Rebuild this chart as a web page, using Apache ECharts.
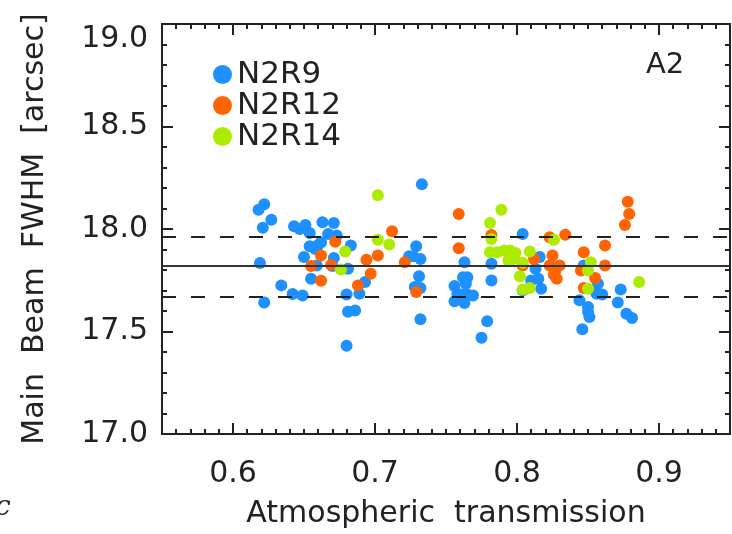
<!DOCTYPE html>
<html>
<head>
<meta charset="utf-8">
<title>Main Beam FWHM vs Atmospheric transmission</title>
<script src="https://cdn.jsdelivr.net/npm/echarts@6/dist/echarts.min.js"></script>
<style>
  html, body { margin: 0; padding: 0; background: #fff; }
  #chart { width: 732px; height: 534px; }
</style>
</head>
<body>
<div id="chart"></div>
<script>
// [atmospheric transmission, main beam FWHM (arcsec)]
var n2r9 = [
  [0.622, 18.121], [0.618, 18.094], [0.627, 18.045], [0.621, 18.006], [0.619, 17.834], [0.634, 17.725], [0.622, 17.642],
  [0.643, 18.013], [0.651, 18.019], [0.647, 18.000], [0.654, 17.981], [0.663, 18.033], [0.671, 18.029], [0.667, 17.976], [0.673, 17.968],
  [0.654, 17.916], [0.660, 17.922], [0.658, 17.903], [0.662, 17.935], [0.650, 17.863], [0.659, 17.822], [0.671, 17.858], [0.670, 17.819],
  [0.655, 17.757], [0.642, 17.683], [0.649, 17.676], [0.680, 17.680], [0.681, 17.596], [0.680, 17.431],
  [0.683, 17.920], [0.681, 17.806], [0.693, 17.741], [0.689, 17.684], [0.686, 17.603],
  [0.733, 18.218], [0.729, 17.916], [0.724, 17.867], [0.727, 17.867], [0.732, 17.854], [0.731, 17.770], [0.728, 17.717], [0.732, 17.712], [0.732, 17.560],
  [0.763, 17.838], [0.762, 17.765], [0.765, 17.765], [0.764, 17.733], [0.756, 17.722], [0.758, 17.684], [0.761, 17.680], [0.765, 17.680], [0.769, 17.676], [0.756, 17.647], [0.763, 17.639],
  [0.782, 17.830], [0.782, 17.749], [0.779, 17.550], [0.775, 17.469],
  [0.804, 17.976], [0.816, 17.863], [0.813, 17.806], [0.810, 17.749], [0.815, 17.757], [0.804, 17.701], [0.817, 17.709],
  [0.847, 17.822], [0.844, 17.652], [0.850, 17.620], [0.850, 17.596], [0.851, 17.571], [0.846, 17.511], [0.857, 17.733], [0.856, 17.684], [0.860, 17.680],
  [0.873, 17.705], [0.871, 17.641], [0.877, 17.587], [0.881, 17.566]
];
var n2r12 = [
  [0.672, 17.938], [0.662, 17.871], [0.655, 17.819], [0.669, 17.825], [0.662, 17.748],
  [0.712, 17.989], [0.702, 17.871], [0.694, 17.850], [0.697, 17.782], [0.688, 17.725], [0.721, 17.838], [0.729, 17.693],
  [0.759, 18.073], [0.759, 17.906], [0.782, 17.971],
  [0.823, 17.960], [0.834, 17.972], [0.812, 17.854], [0.804, 17.822], [0.825, 17.871], [0.823, 17.822], [0.830, 17.822], [0.827, 17.798], [0.826, 17.777], [0.828, 17.757],
  [0.847, 17.887], [0.845, 17.798], [0.855, 17.761], [0.847, 17.712], [0.862, 17.919], [0.862, 17.822],
  [0.878, 18.133], [0.879, 18.073], [0.876, 18.019]
];
var n2r14 = [
  [0.679, 17.890], [0.676, 17.802],
  [0.702, 18.165], [0.702, 17.948], [0.710, 17.924],
  [0.781, 18.029], [0.782, 17.951], [0.781, 17.887], [0.789, 18.094], [0.786, 17.887],
  [0.791, 17.895], [0.795, 17.895], [0.799, 17.883], [0.794, 17.846], [0.797, 17.854], [0.809, 17.890], [0.804, 17.835], [0.802, 17.770], [0.804, 17.705], [0.809, 17.712],
  [0.826, 17.947], [0.852, 17.838], [0.850, 17.798], [0.850, 17.709], [0.886, 17.741]
];
var xTicks = [0.6, 0.7, 0.8, 0.9];
var meanFwhm = 17.817;
var sdFwhm = 0.144;

var ink = "#222";
var font = "DejaVu Sans";
var chart = echarts.init(document.getElementById("chart"));

chart.setOption({
  animation: false,
  backgroundColor: "#fff",
  textStyle: { fontFamily: font, color: ink },
  grid: { left: 162, right: 2, top: 24, bottom: 98 },
  legend: {
    orient: "vertical",
    left: 208,
    top: 54,
    icon: "circle",
    itemWidth: 19,
    itemHeight: 19,
    itemGap: 0,
    textStyle: { fontFamily: font, fontSize: 31, color: ink, padding: [0, 0, 0, 0] },
    data: ["N2R9", "N2R12", "N2R14"]
  },
  graphic: [
    { type: "text", left: 646, top: 51, style: { text: "A2", font: "29px " + font, fill: ink } },
    { type: "text", left: -5, top: 494, style: { text: "c", font: "italic 28px 'DejaVu Serif'", fill: ink } }
  ],
  xAxis: [
    {
      type: "value", min: 0.55, max: 0.95, interval: 0.01, position: "bottom",
      name: "Atmospheric  transmission", nameLocation: "middle", nameGap: 65,
      nameTextStyle: { fontSize: 30, color: ink, fontFamily: font },
      axisLine: { onZero: false, lineStyle: { color: ink, width: 2 } },
      axisTick: { inside: true, length: 5, lineStyle: { color: ink, width: 2 } },
      axisLabel: {
        customValues: xTicks, margin: 25, fontSize: 30, color: ink, fontFamily: font,
        formatter: function (v) { return v.toFixed(1); }
      },
      splitLine: { show: false }
    },
    {
      type: "value", min: 0.55, max: 0.95, interval: 0.01, position: "bottom",
      axisLine: { show: false },
      axisTick: { inside: true, length: 11, customValues: xTicks, lineStyle: { color: ink, width: 2 } },
      axisLabel: { show: false },
      splitLine: { show: false }
    },
    {
      type: "value", min: 0.55, max: 0.95, interval: 0.01, position: "top",
      axisLine: { onZero: false, lineStyle: { color: ink, width: 2 } },
      axisTick: { inside: true, length: 5, lineStyle: { color: ink, width: 2 } },
      axisLabel: { show: false },
      splitLine: { show: false }
    },
    {
      type: "value", min: 0.55, max: 0.95, interval: 0.01, position: "top",
      axisLine: { show: false },
      axisTick: { inside: true, length: 11, customValues: xTicks, lineStyle: { color: ink, width: 2 } },
      axisLabel: { show: false },
      splitLine: { show: false }
    }
  ],
  yAxis: [
    {
      type: "value", min: 17, max: 19, interval: 0.5, position: "left",
      name: "Main  Beam  FWHM  [arcsec]", nameLocation: "middle", nameGap: 112,
      nameTextStyle: { fontSize: 30, color: ink, fontFamily: font },
      axisLine: { onZero: false, lineStyle: { color: ink, width: 2 } },
      axisTick: { inside: true, length: 11, lineStyle: { color: ink, width: 2 } },
      minorTick: { show: true, splitNumber: 5, length: 5, lineStyle: { color: ink, width: 2 } },
      axisLabel: {
        margin: 14, fontSize: 30, color: ink, fontFamily: font,
        verticalAlignMaxLabel: "top",
        formatter: function (v) { return v.toFixed(1); }
      },
      splitLine: { show: false }
    },
    {
      type: "value", min: 17, max: 19, interval: 0.5, position: "right",
      axisLine: { onZero: false, lineStyle: { color: ink, width: 2 } },
      axisTick: { inside: true, length: 11, lineStyle: { color: ink, width: 2 } },
      minorTick: { show: true, splitNumber: 5, length: 5, lineStyle: { color: ink, width: 2 } },
      axisLabel: { show: false },
      splitLine: { show: false }
    }
  ],
  series: [
    {
      name: "N2R9", type: "scatter", data: n2r9, symbolSize: 12,
      itemStyle: { color: "#1E90FF", opacity: 1 },
      markLine: {
        silent: true, symbol: "none", label: { show: false },
        data: [
          { yAxis: meanFwhm, lineStyle: { type: "solid", color: "#333", width: 2 } },
          { yAxis: meanFwhm + sdFwhm, lineStyle: { type: [14, 15], color: "#222", width: 2 } },
          { yAxis: meanFwhm - sdFwhm, lineStyle: { type: [14, 15], color: "#222", width: 2 } }
        ]
      },
      z: 2
    },
    { name: "N2R12", type: "scatter", data: n2r12, symbolSize: 12, itemStyle: { color: "#FF6400", opacity: 1 }, z: 3 },
    { name: "N2R14", type: "scatter", data: n2r14, symbolSize: 12, itemStyle: { color: "#ADEB00", opacity: 1 }, z: 4 }
  ]
});
</script>
</body>
</html>
